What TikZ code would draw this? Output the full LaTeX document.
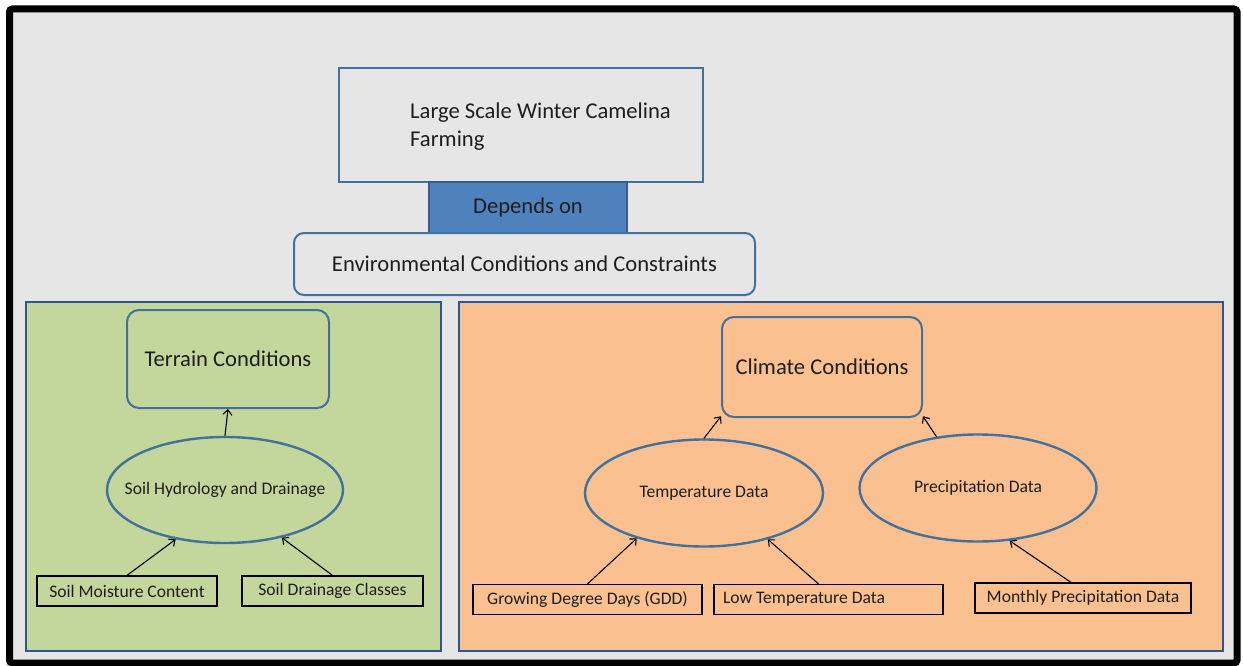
\documentclass[tikz,border=0pt]{standalone}
\usepackage{fontspec}
\setmainfont{Carlito}
\usetikzlibrary{shapes.geometric,arrows.meta}

\definecolor{bggray}{HTML}{E6E6E6}
\definecolor{edgeblue}{HTML}{41719C}
\definecolor{panelblue}{HTML}{2F5597}
\definecolor{dependsblue}{HTML}{4F81BD}
\definecolor{dependsedge}{HTML}{385D8A}
\definecolor{terraingreen}{HTML}{C3D69B}
\definecolor{climateorange}{HTML}{FAC090}
\definecolor{inkgray}{HTML}{1E1E1E}

\tikzset{
  >={Straight Barb[length=5pt, width=9pt]},
  bigbox/.style={draw=edgeblue, line width=2pt, inner sep=0pt, text=inkgray,
    font=\fontsize{22.6}{28}\selectfont},
  roundbox/.style={bigbox, rounded corners=12pt},
  panel/.style={draw=panelblue, line width=2pt, inner sep=0pt},
  oval/.style={ellipse, draw=edgeblue, line width=2.4pt, inner sep=0pt, text=inkgray,
    font=\fontsize{17.6}{20}\selectfont},
  databox/.style={draw=black, line width=1.2pt, inner xsep=9pt, inner ysep=0pt,
    minimum height=30pt, minimum width=#1, text=inkgray,
    font=\fontsize{17.6}{20}\selectfont},
  link/.style={->, line width=1.1pt, black},
}

\begin{document}
\begin{tikzpicture}[x=1pt, y=-1pt]
    \useasboundingbox[fill=white] (0,0) rectangle (1243,666);

    % frame
    \draw[line width=7pt, rounded corners=3pt, fill=bggray] (9.5,9) rectangle (1237,663);

    % top part
    \node[bigbox, minimum width=364pt, minimum height=114pt] (goal) at (520.5,125.5) {};
    \node[anchor=west, align=left, inner sep=0pt, text=inkgray,
      font=\fontsize{22.6}{28}\selectfont] (goaltext) at (410,127)
      {Large Scale Winter Camelina\\Farming};
    \node[bigbox, draw=dependsedge, fill=dependsblue, minimum width=198pt,
      minimum height=51pt] (depends) at (528,207.5) {Depends on};
    \node[roundbox, rounded corners=10pt, minimum width=461pt, minimum height=62pt]
      (env) at (524.5,264) {Environmental Conditions and Constraints};

    % panels
    \node[panel, fill=terraingreen, minimum width=415pt, minimum height=349pt]
      (terrainpanel) at (233.5,476.5) {};
    \node[panel, fill=climateorange, minimum width=764pt, minimum height=349pt]
      (climatepanel) at (841,476.5) {};

    % terrain side
    \node[roundbox, minimum width=202pt, minimum height=98pt] (terrain) at (228,359)
      {Terrain Conditions};
    \node[oval, inner xsep=-20pt, minimum width=236pt, minimum height=106pt] (soil)
      at (225,490) {Soil Hydrology and Drainage};
    \node[databox=180pt] (moisture) at (127,591) {Soil Moisture Content};
    \node[databox=181pt] (drainage) at (332.5,591) {Soil Drainage Classes};

    % climate side
    \node[roundbox, minimum width=200pt, minimum height=100pt] (climate) at (822,367)
      {Climate Conditions};
    \node[oval, minimum width=238pt, minimum height=107pt] (temp) at (704,493)
      {Temperature Data};
    \node[oval, minimum width=237pt, minimum height=107pt] (precip) at (978,488)
      {Precipitation Data};
    \node[databox=229pt] (gdd) at (587.5,599.5) {Growing Degree Days (GDD)};
    \node[databox=229pt, text width=211pt, align=flush left] (lowtemp) at (828.5,599.5)
      {Low Temperature Data};
    \node[databox=216pt] (monthly) at (1083,598) {Monthly Precipitation Data};

    % arrows
    \draw[link] (soil.north) -- (terrain.south);
    \draw[link] (moisture.north) -- (soil.225);
    \draw[link] (drainage.north) -- (soil.320);
    \draw[link] (temp.north) -- (climate.206);
    \draw[link] (precip.129) -- (climate.334);
    \draw[link] (gdd.north) -- (temp.214);
    \draw[link] ([xshift=-10pt]lowtemp.north) -- (temp.324);
    \draw[link] ([xshift=-12pt]monthly.north) -- (precip.301);
\end{tikzpicture}
\end{document}
